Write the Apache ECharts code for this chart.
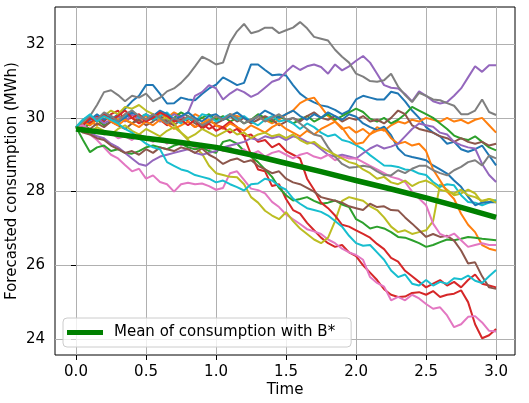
<!DOCTYPE html>
<html>
<head>
<meta charset="utf-8">
<script src="https://cdn.jsdelivr.net/npm/echarts@6/dist/echarts.min.js"></script>
<style>
  html, body { margin: 0; padding: 0; background: #fff; }
  #chart { width: 529px; height: 403px; }
</style>
</head>
<body>
<div id="chart"></div>
<script>
// 时间轴 (x)
const time = [0,0.05,0.1,0.15,0.2,0.25,0.3,0.35,0.4,0.45,0.5,0.55,0.6,0.65,0.7,0.75,0.8,0.85,0.9,0.95,1,1.05,1.1,1.15,1.2,1.25,1.3,1.35,1.4,1.45,1.5,1.55,1.6,1.65,1.7,1.75,1.8,1.85,1.9,1.95,2,2.05,2.1,2.15,2.2,2.25,2.3,2.35,2.4,2.45,2.5,2.55,2.6,2.65,2.7,2.75,2.8,2.85,2.9,2.95,3];

// 各条预测路径 (MWh)
const blue1 = [29.75,29.9,29.8,30.0,30.1,29.95,30.1,30.25,30.45,30.6,30.89, 30.89,30.65,30.39,30.4,30.55,30.5,30.48,30.65,30.8,30.9, 31.1,31.0,30.89,30.95,31.45,31.45,31.3,31.16,31.18,31.15, 30.89,30.66,30.52,30.42,30.34,30.3,30.22,30.1,30.2,30.5, 30.6,30.55,30.5,30.5,30.71,30.66,30.45,30.2,30.0,29.75, 29.6,29.5,29.3,29.35,29.15,29.08,29.15,29.25,28.98,28.71];
const orange1 = [29.75,29.85,29.9,29.8,29.95,30.05,29.95,30.1,30.0,29.9,30.05, 29.95,30.1,30.0,30.15,30.05,29.95,30.1,30.0,29.9,30.0, 29.95,30.1,30.05,30.0,29.9,30.05,29.95,29.85,29.95,30.1, 30.2,30.4,30.5,30.55,30.3,30.05,29.9,29.7,29.75,29.6, 29.7,29.55,29.75,29.65,29.8,29.9,29.85,29.95,29.9,30.0, 29.95,29.9,30.0,29.9,29.95,29.85,29.95,30.0,29.8,29.6];
const green1 = [29.75,29.7,29.85,29.95,29.8,29.9,30.05,29.95,29.85,30.0,30.1, 29.95,30.05,29.9,30.0,30.15,30.05,29.9,30.0,30.1,29.95, 30.05,29.9,30.0,29.85,29.95,30.1,30.0,29.9,30.05,29.95, 29.85,29.95,30.05,29.9,30.0,30.1,29.95,30.05,30.15,30.25, 30.16,29.98,29.9,30.0,29.85,29.95,30.1,30.3,30.2,30.1, 30.0,29.85,29.7,29.52,29.44,29.4,29.5,29.35,29.2,29.12];
const red1 = [29.75,29.9,29.85,30.05,29.9,30.1,30.2,29.95,30.0,29.85,29.95, 30.1,29.95,29.8,29.9,30.05,29.9,29.75,29.85,29.7,29.8, 29.75,29.9,29.75,29.5,29.0,28.6,28.55,28.15,28.2,27.8, 27.5,27.4,27.15,26.95,26.75,26.6,26.5,26.55,26.35,26.25, 26.0,25.8,25.6,25.35,25.2,25.14,25.15,25.25,25.27,25.2, 25.3,25.14,25.2,25.23,25.32,25.0,24.4,24.02,24.1,24.27];
const purple1 = [29.75,29.85,29.95,30.0,29.85,29.95,30.05,29.9,30.1,29.95,30.1, 30.0,29.9,29.95,30.1,30.0,30.15,30.6,30.7,30.89,30.8, 30.5,30.66,30.78,30.7,30.57,30.66,30.82,30.98,31.05,31.25, 31.42,31.3,31.4,31.45,31.38,31.2,31.45,31.29,31.4,31.55, 31.68,31.5,31.2,30.89,30.82,30.8,30.65,30.45,30.72,30.6, 30.45,30.39,30.43,30.6,30.8,31.1,31.4,31.25,31.43,31.43];
const brown1 = [29.75,29.8,29.7,29.85,29.75,29.9,29.8,29.7,29.85,29.95,29.8, 29.9,30.05,29.9,29.8,29.95,30.0,29.85,29.75,29.9,29.85, 29.95,30.05,29.9,30.0,29.85,29.95,30.05,29.95,29.8,29.9, 30.0,29.9,30.05,30.15,30.0,29.95,30.05,29.9,30.0,29.95, 30.05,29.9,29.95,29.85,30.0,30.2,30.1,29.8,29.7,29.65, 29.6,29.5,29.45,29.35,29.45,29.35,29.3,29.35,29.25,29.3];
const pink1 = [29.75,29.7,29.55,29.4,29.2,29.0,28.9,28.72,28.55,28.62,28.35, 28.44,28.26,28.2,28.0,28.2,28.24,28.2,28.22,28.15,28.05, 28.1,28.5,28.55,28.32,28.08,28.04,27.95,27.72,27.58,27.38, 27.25,27.12,26.98,26.92,26.85,26.7,26.6,26.45,26.35,26.28, 26.15,25.68,25.52,25.42,25.05,25.14,25.05,25.2,25.1,24.95, 24.82,24.86,24.64,24.32,24.4,24.6,24.62,24.45,24.22,24.2];
const gray1 = [29.75,29.95,30.05,30.35,30.7,30.75,30.62,30.45,30.6,30.55,30.66, 30.45,30.55,30.72,30.8,30.95,31.15,31.4,31.66,31.57,31.45, 31.5,32.05,32.35,32.55,32.3,32.35,32.45,32.45,32.3,32.38, 32.45,32.6,32.43,32.2,32.15,32.1,31.85,31.66,31.5,31.2, 31.12,31.0,30.98,31.02,31.2,30.85,30.62,30.43,30.68,30.6, 30.5,30.48,30.4,30.33,30.1,30.1,30.2,30.5,30.16,30.08];
const olive1 = [29.75,29.85,30.0,29.9,30.05,30.2,30.1,30.3,30.25,30.35,30.2, 30.1,29.95,30.0,29.85,29.6,29.4,29.2,29.03,28.7,28.5, 28.45,28.4,28.39,28.2,27.85,27.7,27.48,27.35,27.25,27.44, 27.2,27.0,26.85,26.7,26.6,26.75,27.2,27.75,27.85,27.8, 27.75,27.6,27.5,27.3,27.05,26.9,26.95,26.85,26.9,26.95, 27.2,28.2,28.05,27.9,27.95,28.05,27.95,27.7,27.8,27.75];
const cyan1 = [29.75,29.95,30.05,29.9,30.1,30.0,29.85,30.05,30.2,30.0,30.1, 29.95,30.05,30.15,29.95,29.85,30.0,29.9,30.1,30.05,29.9, 30.0,30.1,29.95,30.05,29.9,29.8,29.95,30.05,29.9,29.95, 29.85,29.7,29.85,29.75,29.6,29.5,29.55,29.4,29.35,29.26, 29.15,28.99,28.85,28.71,28.7,28.67,28.6,28.58,28.49,28.45, 28.26,28.13,28.2,28.17,27.9,27.72,27.7,27.63,27.7,27.77];
const blue2 = [29.75,29.8,29.95,30.1,29.95,30.05,29.9,30.0,30.15,30.05,29.95, 30.05,30.2,30.1,29.95,30.05,30.15,30.0,29.9,30.05,30.1, 29.95,30.05,30.15,30.0,29.9,30.05,30.2,30.1,30.0,30.1, 30.2,30.05,29.95,30.1,30.0,30.15,30.05,29.95,30.1,30.03, 29.85,29.75,29.67,29.76,29.53,29.17,28.99,28.94,28.9,28.85, 28.71,28.6,28.49,28.3,28.13,27.86,27.63,27.7,27.72,27.71];
const orange2 = [29.75,29.9,29.8,29.95,30.05,29.9,29.8,29.95,29.85,29.75,29.9, 29.8,29.95,29.85,29.7,29.8,29.9,29.75,29.85,29.95,29.8, 29.7,29.85,29.75,29.65,29.8,29.7,29.6,29.75,29.85,29.7, 29.6,29.5,29.65,29.55,29.7,29.8,29.9,29.74,29.47,29.29, 29.33,29.56,29.65,29.7,29.45,29.3,29.35,29.25,29.3,29.1, 28.6,28.3,28.0,27.8,27.4,27.1,26.9,26.55,26.45,26.4];
const green2 = [29.75,29.4,29.07,29.2,29.25,29.1,29.15,29.05,29.03,29.1,29.2, 29.25,29.2,29.15,29.25,29.3,29.2,29.15,29.2,29.1,29.05, 29.35,29.4,29.3,29.1,28.95,28.8,28.6,28.4,28.1,27.9, 27.76,27.8,27.85,27.75,27.67,27.7,27.76,27.65,27.58,27.25, 27.15,27.0,27.05,27.0,26.9,26.77,26.75,26.68,26.6,26.5, 26.55,26.63,26.7,26.68,26.72,26.77,26.75,26.72,26.7,26.68];
const red2 = [29.75,29.8,30.0,29.9,30.1,29.95,30.05,30.2,30.0,30.1,29.9, 30.0,30.15,30.05,29.9,29.95,29.8,29.95,29.7,29.85,29.65, 29.75,29.6,29.7,29.5,29.55,29.35,29.4,29.2,29.3,29.1, 29.0,28.9,28.35,28.05,27.7,27.55,27.35,27.1,27.05,26.95, 26.85,26.75,26.58,26.44,26.2,26.1,25.85,25.7,25.55,25.4, 25.5,25.6,25.45,25.55,25.4,25.6,25.75,25.5,25.45,25.4];
const purple2 = [29.75,29.7,29.6,29.5,29.45,29.3,29.2,29.05,28.9,28.75,28.7, 28.85,28.95,29.0,29.05,29.1,29.15,29.05,29.0,29.05,29.1, 29.2,29.25,29.3,29.35,29.45,29.4,29.5,29.45,29.5,29.4, 29.5,29.45,29.35,29.3,29.15,29.0,28.95,29.0,28.95,28.9, 29.04,29.17,29.26,29.17,29.22,29.3,29.5,29.7,29.85,29.8, 29.76,29.6,29.55,29.35,29.26,29.2,29.17,28.75,28.45,28.26];
const brown2 = [29.75,29.6,29.55,29.45,29.4,29.25,29.15,29.05,29.1,29.0,29.15, 29.05,29.2,29.15,29.1,29.2,29.15,29.05,29.17,29.0,28.9, 28.75,28.85,28.9,28.8,28.85,28.7,28.6,28.5,28.55,28.35, 28.25,28.2,28.1,28.0,27.85,27.8,27.75,27.7,27.6,27.55, 27.5,27.67,27.58,27.6,27.5,27.49,27.3,27.13,26.95,26.77, 26.85,26.77,26.8,26.67,26.4,26.05,26.08,25.7,25.4,25.36];
const pink2 = [29.75,29.8,29.65,29.7,29.55,29.6,29.45,29.5,29.4,29.55,29.45, 29.35,29.45,29.3,29.4,29.25,29.35,29.2,29.3,29.15,29.25, 29.1,29.2,29.05,29.15,29.0,29.1,28.95,29.05,29.1,29.0, 28.9,29.0,29.05,28.95,28.9,29.0,28.85,28.95,28.9,28.9, 28.8,28.7,28.6,28.5,28.4,28.35,28.26,28.0,27.81,27.63, 27.13,26.85,26.77,26.86,26.68,26.5,26.55,26.6,26.55,26.55];
const gray2 = [29.75,29.9,30.05,29.95,30.15,30.05,29.9,30.1,30.2,30.05,29.95, 30.1,30.0,29.85,30.0,29.9,30.05,29.95,29.8,29.9,30.05, 29.95,30.1,30.0,29.85,29.95,30.05,29.9,30.0,30.1,29.95, 30.0,29.85,29.7,29.55,29.5,29.2,28.95,28.75,28.65,28.67, 28.7,28.67,28.55,28.45,28.44,28.58,28.5,28.62,28.7,28.7, 28.58,28.5,28.44,28.58,28.67,28.8,28.85,28.71,28.98,28.9];
const olive2 = [29.75,29.7,29.6,29.75,29.65,29.55,29.7,29.8,29.65,29.55,29.7, 29.6,29.5,29.65,29.75,29.6,29.45,29.55,29.7,29.6,29.5, 29.6,29.7,29.55,29.6,29.45,29.55,29.6,29.5,29.55,29.45, 29.55,29.4,29.3,29.35,29.2,29.1,29.0,28.9,28.8,28.75, 28.6,28.5,28.35,28.4,28.25,28.2,28.3,28.15,28.25,28.3, 28.2,28.05,28.0,27.95,28.05,27.9,27.85,27.75,27.8,27.7];
const cyan2 = [29.75,29.95,30.1,29.9,30.05,29.95,29.85,29.7,29.6,29.45,29.3, 29.2,29.15,28.8,28.7,28.6,28.55,28.45,28.4,28.35,28.25, 28.3,28.2,28.12,28.03,28.2,28.22,28.35,28.3,28.15,28.05, 27.81,27.67,27.55,27.5,27.45,27.35,27.2,27.05,26.8,26.6, 26.53,26.55,26.35,26.15,25.86,25.68,25.75,25.5,25.45,25.6, 25.45,25.55,25.5,25.65,25.62,25.72,25.58,25.52,25.7,25.87];

// 平均值曲线 (B*)
const meanTime = [0,0.25,0.5,0.75,1,1.25,1.5,1.75,2,2.25,2.5,2.75,3];
const meanValues = [29.7,29.58,29.45,29.33,29.2,29.0,28.77,28.54,28.3,28.07,27.83,27.57,27.3];

// 刻度
const xTicks = [0,0.5,1,1.5,2,2.5,3];
const yTicks = [24,26,28,30,32];

// matplotlib tab10 顺序, 两轮
const paths = [blue1, orange1, green1, red1, purple1, brown1, pink1, gray1, olive1, cyan1,
               blue2, orange2, green2, red2, purple2, brown2, pink2, gray2, olive2, cyan2];
const palette = ['#1f77b4','#ff7f0e','#2ca02c','#d62728','#9467bd','#8c564b','#e377c2','#7f7f7f','#bcbd22','#17becf'];

const FONT = 'DejaVu Sans';
const FS = 15;
const chart = echarts.init(document.getElementById('chart'), null, { renderer: 'canvas' });

const series = paths.map((vals, k) => ({
  name: 'path' + k,
  type: 'line',
  showSymbol: false,
  symbol: 'none',
  silent: true,
  lineStyle: { width: 2, color: palette[k % 10] },
  itemStyle: { color: palette[k % 10] },
  data: time.map((t, i) => [t, vals[i]])
}));

series.push({
  name: 'Mean of consumption with B*',
  type: 'line',
  showSymbol: false,
  symbol: 'none',
  silent: true,
  lineStyle: { width: 5.5, color: '#008000' },
  itemStyle: { color: '#008000' },
  data: meanTime.map((t, i) => [t, meanValues[i]])
});

const option = {
  animation: false,
  backgroundColor: '#fff',
  grid: {
    left: 55, right: 14, top: 7, bottom: 48,
    outerBoundsMode: 'none', // 固定绘图区, 不随标签收缩
    show: true, borderColor: '#000', borderWidth: 1, backgroundColor: 'transparent'
  },
  legend: {
    data: [{ name: 'Mean of consumption with B*', icon: 'rect' }],
    left: 63, top: 318,
    itemWidth: 36, itemHeight: 5,
    padding: [7, 16, 7, 4],
    backgroundColor: 'rgba(255,255,255,0.8)',
    borderColor: '#cccccc', borderWidth: 1, borderRadius: 4,
    textStyle: { fontFamily: FONT, fontSize: FS, color: '#000', padding: [0, 0, 0, 6] }
  },
  xAxis: {
    type: 'value',
    min: -0.15, max: 3.135,
    name: 'Time', nameLocation: 'middle', nameGap: 28, nameMoveOverlap: false,
    nameTextStyle: { fontFamily: FONT, fontSize: FS, color: '#000' },
    axisLine: { show: false },
    axisTick: { show: true, length: 5, customValues: xTicks, lineStyle: { color: '#000' } },
    axisLabel: { customValues: xTicks, margin: 10, fontFamily: FONT, fontSize: FS, color: '#000',
      formatter: v => v.toFixed(1) },
    splitLine: { show: true, lineStyle: { color: '#b0b0b0', width: 1 } }
  },
  yAxis: {
    type: 'value',
    min: 23.565, max: 33.01,
    name: 'Forecasted consumption (MWh)', nameLocation: 'middle', nameGap: 35, nameMoveOverlap: false,
    nameTextStyle: { fontFamily: FONT, fontSize: FS, color: '#000' },
    axisLine: { show: false },
    axisTick: { show: true, length: 5, customValues: yTicks, lineStyle: { color: '#000' } },
    axisLabel: { customValues: yTicks, margin: 10, fontFamily: FONT, fontSize: FS, color: '#000' },
    splitLine: { show: true, lineStyle: { color: '#b0b0b0', width: 1 } }
  },
  series: series
};

chart.setOption(option);
</script>
</body>
</html>
